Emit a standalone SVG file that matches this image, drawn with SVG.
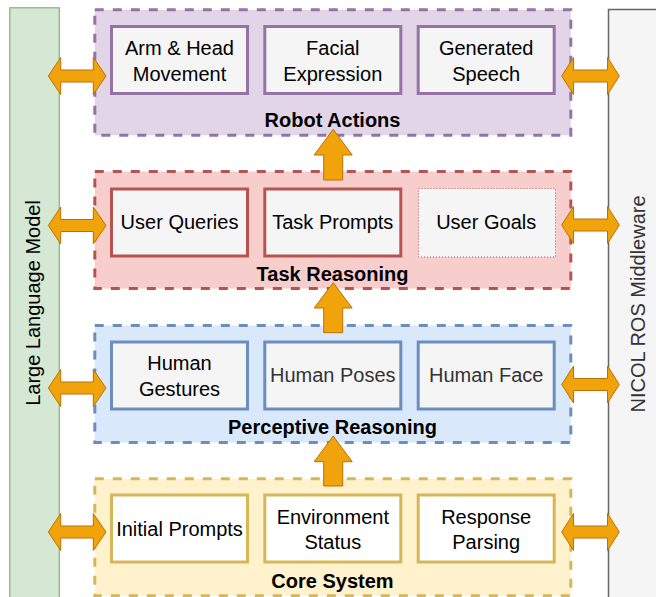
<svg xmlns="http://www.w3.org/2000/svg" width="656" height="597" viewBox="0 0 656 597">
  <style>
    text { font-family: "Liberation Sans", Arial, Helvetica, sans-serif; font-size: 20px; text-anchor: middle; fill: #000000; }
    .title { font-weight: bold; }
    .muted { fill: #333333; }
    .grp { stroke-width: 3; stroke-dasharray: 9 9; }
    .box { stroke-width: 3; fill: #f5f5f5; }
    .arrow { fill: #f0a30a; stroke: #bd7000; stroke-width: 1; stroke-linejoin: miter; }
    .purple { fill: #e1d5e7; stroke: #9673a6; }
    .red { fill: #f8cecc; stroke: #b85450; }
    .blue { fill: #dae8fc; stroke: #6c8ebf; }
    .yellow { fill: #fff2cc; stroke: #d6b656; }
  </style>

  <!-- side bars -->
  <g id="llm">
    <rect x="9.8" y="7.8" width="49.5" height="600" fill="#d5e8d4" stroke="#82b366" stroke-width="1.2"/>
    <text transform="translate(40,303) rotate(-90)">Large Language Model</text>
  </g>
  <g id="ros">
    <rect x="608.5" y="9.5" width="60" height="600" fill="#f5f5f5" stroke="#666666" stroke-width="1.5"/>
    <text class="muted" transform="translate(645,304) rotate(-90)">NICOL ROS Middleware</text>
  </g>

  <!-- layer containers -->
  <g id="robot-actions">
    <rect class="grp purple" x="94.8" y="9.8" width="476" height="125.5"/>
    <text class="title" x="332.5" y="127">Robot Actions</text>
  </g>
  <g id="task-reasoning">
    <rect class="grp red" x="94.8" y="171.5" width="476" height="117"/>
    <text class="title" x="332.5" y="280.5">Task Reasoning</text>
  </g>
  <g id="perceptive-reasoning">
    <rect class="grp blue" x="94.8" y="325.5" width="476" height="117"/>
    <text class="title" x="332.5" y="434">Perceptive Reasoning</text>
  </g>
  <g id="core-system">
    <rect class="grp yellow" x="94.8" y="478.8" width="476" height="117"/>
    <text class="title" x="332.5" y="587.5">Core System</text>
  </g>

  <!-- robot actions -->
  <g id="arm-head">
    <rect class="box" stroke="#9673a6" x="111.5" y="26.5" width="136" height="67"/>
    <text x="179.5" y="54.5">Arm &amp; Head</text>
    <text x="179.5" y="80.5">Movement</text>
  </g>
  <g id="facial-expression">
    <rect class="box" stroke="#9673a6" x="264.8" y="26.5" width="136" height="67"/>
    <text x="332.8" y="54.5">Facial</text>
    <text x="332.8" y="80.5">Expression</text>
  </g>
  <g id="generated-speech">
    <rect class="box" stroke="#9673a6" x="418.2" y="26.5" width="136" height="67"/>
    <text x="486.2" y="54.5">Generated</text>
    <text x="486.2" y="80.5">Speech</text>
  </g>

  <!-- task reasoning -->
  <g id="user-queries">
    <rect class="box" stroke="#b85450" x="111.5" y="189" width="136" height="67"/>
    <text x="179.5" y="229">User Queries</text>
  </g>
  <g id="task-prompts">
    <rect class="box" stroke="#b85450" x="264.8" y="189" width="136" height="67"/>
    <text x="332.8" y="229">Task Prompts</text>
  </g>
  <g id="user-goals">
    <rect x="418.5" y="188.5" width="137" height="68.5" fill="#f5f5f5" stroke="#b85450" stroke-width="1" stroke-dasharray="1 2"/>
    <text x="486.2" y="229">User Goals</text>
  </g>

  <!-- perceptive reasoning -->
  <g id="human-gestures">
    <rect class="box" stroke="#6c8ebf" x="111.5" y="342" width="136" height="67"/>
    <text x="179.5" y="370">Human</text>
    <text x="179.5" y="396">Gestures</text>
  </g>
  <g id="human-poses">
    <rect class="box" stroke="#6c8ebf" x="264.8" y="342" width="136" height="67"/>
    <text class="muted" x="332.8" y="382">Human Poses</text>
  </g>
  <g id="human-face">
    <rect class="box" stroke="#6c8ebf" x="418.2" y="342" width="136" height="67"/>
    <text class="muted" x="486.2" y="382">Human Face</text>
  </g>

  <!-- core system -->
  <g id="initial-prompts">
    <rect class="box" fill="#ffffff" style="fill:#ffffff" stroke="#d6b656" x="111.5" y="495" width="136" height="67"/>
    <text x="179.5" y="536">Initial Prompts</text>
  </g>
  <g id="environment-status">
    <rect class="box" style="fill:#ffffff" stroke="#d6b656" x="264.8" y="495" width="136" height="67"/>
    <text x="332.8" y="523.5">Environment</text>
    <text x="332.8" y="548.5">Status</text>
  </g>
  <g id="response-parsing">
    <rect class="box" style="fill:#ffffff" stroke="#d6b656" x="418.2" y="495" width="136" height="67"/>
    <text x="486.2" y="523.5">Response</text>
    <text x="486.2" y="548.5">Parsing</text>
  </g>

  <!-- connectors -->
  <g id="connectors">
    <!-- LLM side, double-headed -->
    <path class="arrow" d="M48.3,76 L60.7,57.5 L60.7,70 L93.3,70 L93.3,57.5 L106,76 L93.3,94.5 L93.3,82 L60.7,82 L60.7,94.5 Z"/>
    <path class="arrow" d="M48.3,225.5 L60.7,207 L60.7,219.5 L93.3,219.5 L93.3,207 L106,225.5 L93.3,244 L93.3,231.5 L60.7,231.5 L60.7,244 Z"/>
    <path class="arrow" d="M48.3,388 L60.7,369.5 L60.7,382 L93.3,382 L93.3,369.5 L106,388 L93.3,406.5 L93.3,394 L60.7,394 L60.7,406.5 Z"/>
    <path class="arrow" d="M48.3,532 L60.7,513.5 L60.7,526 L93.3,526 L93.3,513.5 L106,532 L93.3,550.5 L93.3,538 L60.7,538 L60.7,550.5 Z"/>
    <!-- middleware side, double-headed -->
    <path class="arrow" d="M561.7,76 L573.5,57.5 L573.5,70 L607.5,70 L607.5,57.5 L619.3,76 L607.5,94.5 L607.5,82 L573.5,82 L573.5,94.5 Z"/>
    <path class="arrow" d="M561.7,225 L573.5,206.5 L573.5,219 L607.5,219 L607.5,206.5 L619.3,225 L607.5,243.5 L607.5,231 L573.5,231 L573.5,243.5 Z"/>
    <path class="arrow" d="M561.7,384.5 L573.5,366 L573.5,378.5 L607.5,378.5 L607.5,366 L619.3,384.5 L607.5,403 L607.5,390.5 L573.5,390.5 L573.5,403 Z"/>
    <path class="arrow" d="M561.7,532 L573.5,513.5 L573.5,526 L607.5,526 L607.5,513.5 L619.3,532 L607.5,550.5 L607.5,538 L573.5,538 L573.5,550.5 Z"/>
    <!-- upward flow between layers -->
    <path class="arrow" d="M333.2,129.3 L352.2,155 L342.7,155 L342.7,180 L323.7,180 L323.7,155 L314.2,155 Z"/>
    <path class="arrow" d="M333.2,282.7 L352.2,308 L342.7,308 L342.7,332.7 L323.7,332.7 L323.7,308 L314.2,308 Z"/>
    <path class="arrow" d="M333.2,436 L352.2,461.7 L342.7,461.7 L342.7,486 L323.7,486 L323.7,461.7 L314.2,461.7 Z"/>
  </g>
</svg>
